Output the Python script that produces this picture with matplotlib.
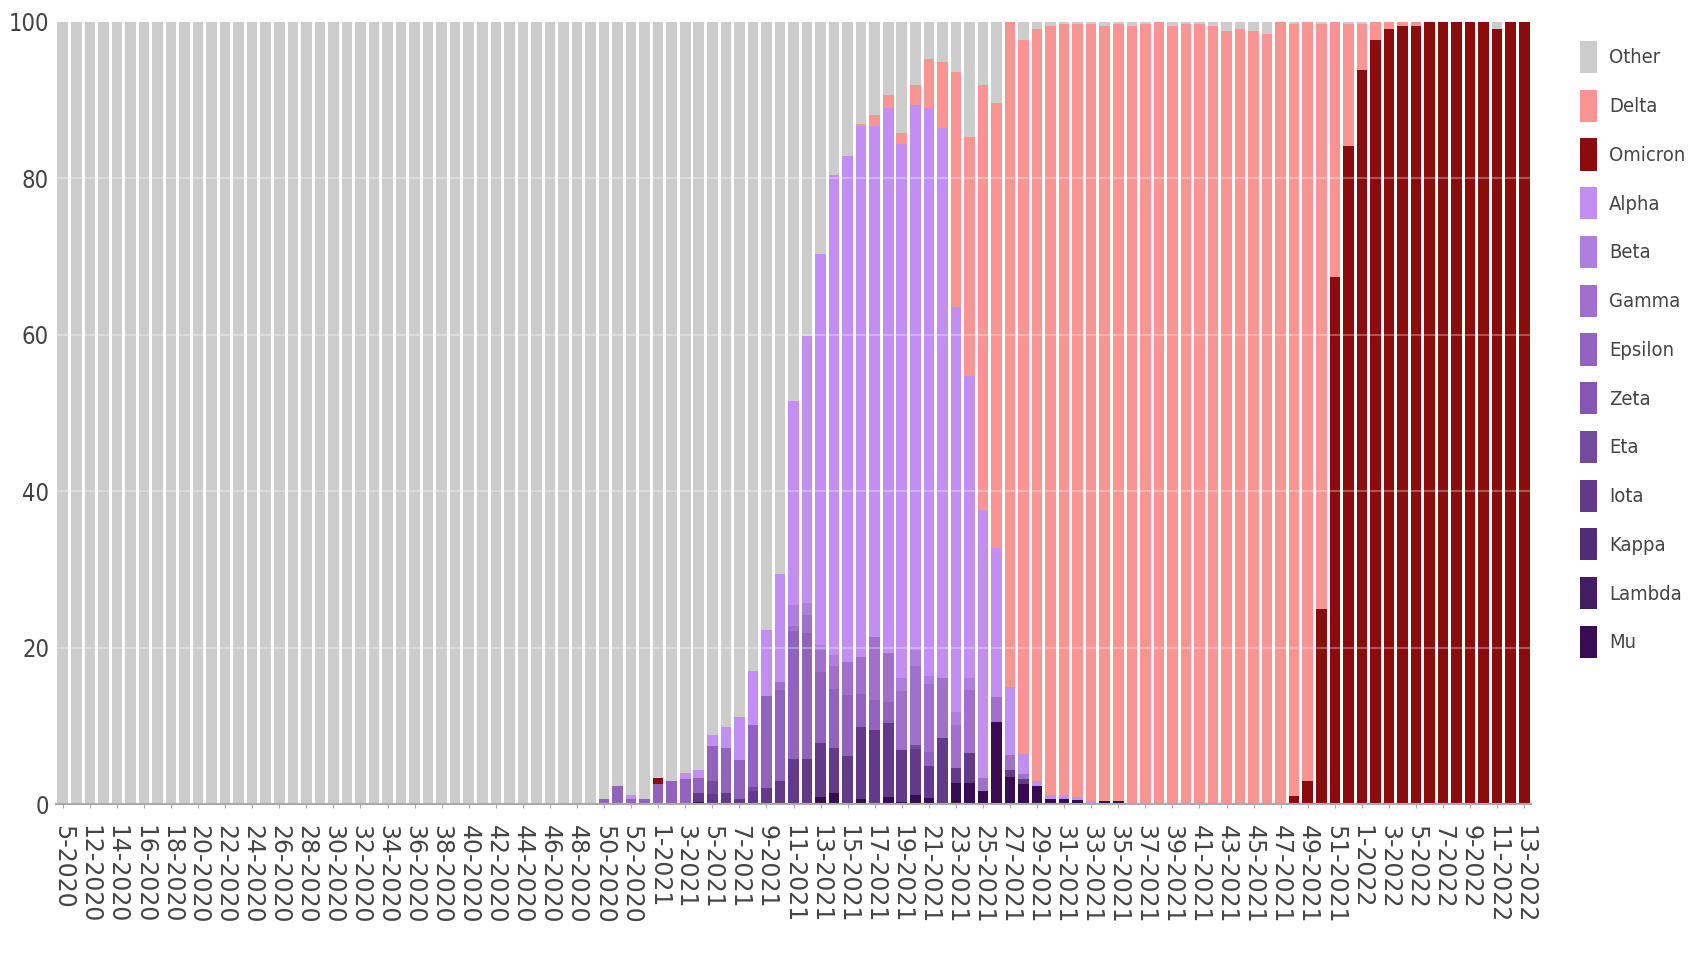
#!/usr/bin/env python
# -*- coding: utf-8 -*-

""" Weekly share of SARS-CoV-2 variants, stacked bars """

import matplotlib
matplotlib.use("Agg")
import matplotlib.pyplot as plt
from matplotlib import font_manager
import numpy as np


WEEKS = (["5-2020", "11-2020"]
         + [f"{w}-2020" for w in range(12, 54)]
         + [f"{w}-2021" for w in range(1, 53)]
         + [f"{w}-2022" for w in range(1, 14)])

# values in % per week; the purple series are zero from week 36-2021 on
ALPHA = [0] * 40 + [
    0, 0, 0.6, 0, 0, 0, 0.7, 1.0, 1.4, 2.6,
    5.5, 6.9, 8.5, 13.8, 26.1, 34.1, 50.0, 61.3, 64.6, 67.9,
    65.2, 69.7, 68.3, 69.6, 72.6, 70.3, 51.7, 38.6, 34.3, 19.0,
    8.7, 2.6, 0.6, 0.5, 0.6, 0.4, 0.4, 0, 0] + [0] * 30
BETA = [0] * 40 + [
    0, 0, 0, 0, 0, 0, 0, 0, 0, 0,
    0, 0, 0, 0, 2.6, 1.6, 0.6, 1.5, 0, 0,
    0, 0, 1.7, 2.1, 0.9, 0, 1.7, 1.5, 0, 0,
    0, 0, 0, 0, 0, 0, 0, 0, 0] + [0] * 30
GAMMA = [0] * 40 + [
    0, 0, 0, 0, 0, 0, 0, 0, 0, 0,
    0, 0, 0, 1.0, 0.7, 2.3, 2.8, 2.9, 4.3, 4.7,
    8.1, 6.2, 7.5, 10.0, 8.7, 7.7, 5.5, 8.1, 1.6, 3.2,
    1.9, 0.6, 0, 0, 0, 0, 0, 0, 0] + [0] * 30
EPSILON = [0] * 40 + [
    0.6, 2.3, 0.6, 0.6, 2.6, 2.9, 3.2, 1.9, 4.5, 5.8,
    4.9, 7.9, 11.7, 11.6, 16.3, 16.0, 9.1, 7.5, 7.8, 4.3,
    3.8, 2.8, 0, 0, 1.9, 0, 0, 0, 0, 0,
    0, 0, 0, 0, 0, 0, 0, 0, 0] + [0] * 30
ZETA = [0] * 109
ETA = [0] * 40 + [
    0, 0, 0, 0, 0, 0, 0, 0, 1.6, 0,
    0, 0.6, 0, 0, 0, 0, 0, 0, 0, 0,
    0, 0, 0, 0.6, 0, 0, 0, 0, 0, 0,
    0, 0, 0, 0, 0, 0, 0, 0, 0] + [0] * 30
IOTA = [0] * 40 + [
    0, 0, 0, 0, 0, 0, 0, 1.1, 1.3, 1.4,
    0.7, 1.6, 2.1, 3.0, 5.8, 5.8, 6.9, 5.8, 6.1, 9.1,
    9.5, 9.4, 6.6, 5.8, 4.0, 8.4, 1.9, 3.8, 0, 0,
    1.0, 0.6, 0, 0, 0, 0, 0, 0, 0] + [0] * 30
KAPPA = [0] * 109
LAMBDA = [0] * 109
MU = [0] * 40 + [
    0, 0, 0, 0, 0, 0, 0, 0.3, 0, 0,
    0, 0, 0, 0, 0, 0, 0.9, 1.4, 0, 0.7,
    0, 0.9, 0.3, 1.2, 0.8, 0, 2.7, 2.7, 1.7, 10.5,
    3.4, 2.6, 2.3, 0.7, 0.6, 0.5, 0, 0.4, 0.4] + [0] * 30
OMICRON = [0] * 44 + [0.7] + [0] * 46 + [
    1.0, 3.0, 24.9, 67.3, 84.1, 93.8, 97.7, 99.0, 99.4, 99.4,
    100, 100, 100, 100, 100, 99.0, 100, 100]
DELTA = [0] * 59 + [
    0.2, 1.4, 1.6, 1.3, 2.6, 6.3, 8.4, 30.1, 30.6, 54.3,
    56.9, 85.0, 91.3, 96.2, 98.2, 98.5, 98.8, 99.3, 99.0, 99.3,
    99.4, 99.7, 100, 99.4, 99.7, 99.7, 99.4, 98.8, 99.0, 98.8,
    98.4, 100, 98.7, 97.0, 74.8, 32.7, 15.6, 5.9, 2.3, 1.0,
    0.6, 0.6, 0, 0, 0, 0, 0, 0, 0, 0]
OTHER = [100] * 40 + [
    99.4, 97.7, 98.8, 99.4, 96.7, 97.1, 96.1, 95.7, 91.2, 90.2,
    88.9, 83.0, 77.7, 70.6, 48.5, 40.2, 29.7, 19.6, 17.2, 13.1,
    12.0, 9.4, 14.3, 8.1, 4.8, 5.2, 6.4, 14.7, 8.1, 10.4,
    0, 2.3, 0.9, 0.6, 0.3, 0.3, 0.3, 0.6, 0.3, 0.6,
    0.3, 0, 0.6, 0.3, 0.3, 0.6, 1.2, 1.0, 1.2, 1.6,
    0, 0.3, 0, 0.3, 0, 0.3, 0.3, 0, 0, 0,
    0, 0, 0, 0, 0, 0, 1.0, 0, 0]

# stacked from the bottom up
SERIES = [
    ("Mu", MU, "#370c52"),
    ("Lambda", LAMBDA, "#431c62"),
    ("Kappa", KAPPA, "#522c78"),
    ("Iota", IOTA, "#633a8a"),
    ("Eta", ETA, "#744a9c"),
    ("Zeta", ZETA, "#8656b2"),
    ("Epsilon", EPSILON, "#9163bf"),
    ("Gamma", GAMMA, "#a070cc"),
    ("Beta", BETA, "#ae7fdd"),
    ("Alpha", ALPHA, "#c28ef2"),
    ("Omicron", OMICRON, "#8b0c0c"),
    ("Delta", DELTA, "#f89593"),
    ("Other", OTHER, "#cccccc"),
]


def narrow_font(size: float) -> font_manager.FontProperties:
    """ Pick a condensed sans font if one is installed """
    condensed = ("ultra-condensed", "extra-condensed", "condensed",
                 "semi-condensed")
    for wanted in ["Liberation Sans Narrow", "DejaVu Sans", "Open Sans",
                   "Noto Sans", "Roboto"]:
        for entry in font_manager.fontManager.ttflist:
            stretch = entry.stretch
            if isinstance(stretch, str):
                is_narrow = stretch in condensed
            else:
                is_narrow = stretch < 500
            if "Narrow" in entry.name or "Condensed" in entry.name:
                is_narrow = True
            if (entry.name.startswith(wanted) and is_narrow
                    and entry.style == "normal"
                    and entry.weight in (400, "normal", "regular")):
                return font_manager.FontProperties(fname=entry.fname,
                                                   size=size)
    return font_manager.FontProperties(family="Liberation Sans", size=size)


def main() -> None:
    """ Main function """
    fig = plt.figure(figsize=(16.94, 9.55), dpi=100)
    ax = fig.add_axes([56 / 1694, 1 - 804 / 955,
                       (1531 - 56) / 1694, (804 - 21.6) / 955])

    x = np.arange(len(WEEKS))
    bottom = np.zeros(len(WEEKS))
    handles = []
    for name, values, color in SERIES:
        vals = np.array(values, dtype=float)
        bars = ax.bar(x, vals, width=0.78, bottom=bottom, color=color,
                      linewidth=0, label=name, zorder=2)
        handles.append(bars)
        bottom += vals

    # faint grid showing through the bars
    for level in [20, 40, 60, 80]:
        ax.axhline(level, color="white", alpha=0.3, linewidth=1.5, zorder=3)

    ax.set_xlim(-0.5, len(WEEKS) - 0.5)
    ax.set_ylim(0, 100)
    ax.set_yticks([0, 20, 40, 60, 80, 100])
    ax.set_yticklabels(["0", "20", "40", "60", "80", "100"],
                       color="#444444")
    for label in ax.get_yticklabels():
        label.set_fontproperties(narrow_font(17))
    ax.set_xticks(x[::2])
    ax.set_xticklabels(WEEKS[::2], rotation=-90, fontsize=17,
                       color="#444444", va="top", ha="center")
    ax.tick_params(axis="y", length=0, pad=5)
    ax.tick_params(axis="x", length=3, color="#aaaaaa", pad=12)

    for side in ["top", "right", "left"]:
        ax.spines[side].set_visible(False)
    ax.spines["bottom"].set_color("#aaaaaa")
    ax.spines["bottom"].set_linewidth(1.5)
    ax.spines["bottom"].set_zorder(4)

    leg = fig.legend(handles[::-1], [s[0] for s in SERIES][::-1],
                     loc="upper left",
                     bbox_to_anchor=(1580 / 1694, 1 - 41 / 955),
                     bbox_transform=fig.transFigure,
                     frameon=False, borderpad=0, borderaxespad=0,
                     handlelength=0.84, handleheight=2.07,
                     handletextpad=0.6, labelspacing=0.83,
                     prop=narrow_font(14.5))
    for text in leg.get_texts():
        text.set_color("#444444")

    fig.savefig("out.png", dpi=100)


if __name__ == "__main__":
    main()
